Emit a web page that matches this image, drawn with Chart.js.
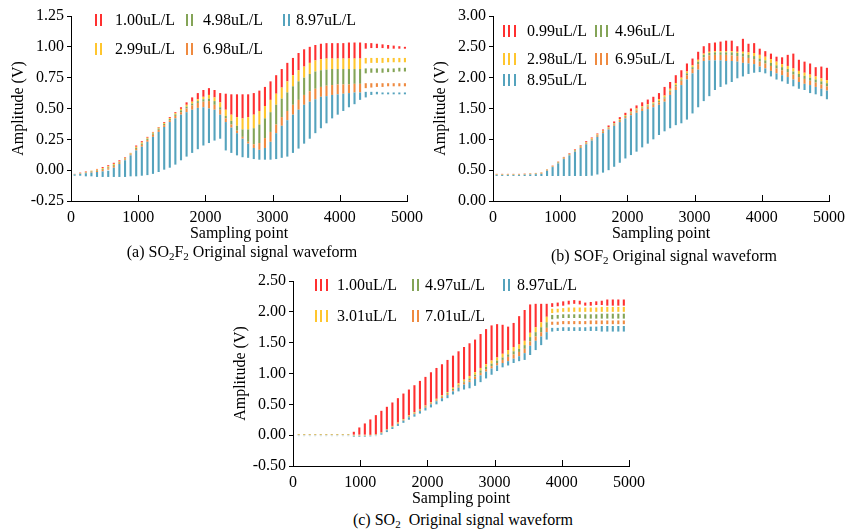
<!DOCTYPE html>
<html>
<head>
<meta charset="utf-8">
<script src="https://cdn.jsdelivr.net/npm/chart.js@4.4.0/dist/chart.umd.min.js"></script>
<style>
  html, body { margin: 0; padding: 0; background: #fff; }
  body { width: 853px; height: 530px; position: relative; overflow: hidden;
         font-family: "Liberation Serif", "Times New Roman", serif; color: #000; }
  canvas { position: absolute; }
  .caption { position: absolute; font-size: 16px; line-height: 18px; white-space: nowrap; transform: translateX(-50%); }
  .caption sub { font-size: 11px; line-height: 0; vertical-align: -3px; }
  .lg-text { position: absolute; font-size: 16px; line-height: 18px; white-space: nowrap; }
  .lg-line { position: absolute; width: 2px; height: 12px; }
</style>
</head>
<body>
<canvas id="chartA" width="430" height="245" style="left:0px;top:0px"></canvas>
<canvas id="chartB" width="430" height="245" style="left:422px;top:0px"></canvas>
<canvas id="chartC" width="430" height="245" style="left:222px;top:265px"></canvas>
<div class="caption" style="left:242px;top:243px">(a) SO<sub>2</sub>F<sub>2</sub> Original signal waveform</div>
<div class="caption" style="left:664px;top:247px">(b) SOF<sub>2</sub> Original signal waveform</div>
<div class="caption" style="left:463px;top:511px">(c) SO<sub>2</sub>&nbsp; Original signal waveform</div>
<script>
// sampling points where each vertical stroke sits
var samplesAB = [54, 137, 221, 304, 387, 471, 554, 637, 720, 804,
    887, 970, 1054, 1137, 1220, 1304, 1387, 1470, 1553, 1637,
    1720, 1803, 1887, 1970, 2053, 2136, 2220, 2303, 2386, 2470,
    2553, 2636, 2720, 2803, 2886, 2969, 3053, 3136, 3219, 3303,
    3386, 3469, 3553, 3636, 3719, 3802, 3886, 3969, 4052, 4136,
    4219, 4302, 4386, 4469, 4552, 4636, 4719, 4802, 4886, 4969];
var samplesC = [85, 167, 249, 331, 413, 495, 577, 659, 741, 823,
    905, 987, 1069, 1151, 1233, 1315, 1397, 1479, 1561, 1643,
    1725, 1807, 1889, 1971, 2053, 2135, 2217, 2299, 2381, 2463,
    2545, 2627, 2709, 2791, 2873, 2955, 3037, 3119, 3201, 3283,
    3365, 3447, 3529, 3611, 3693, 3775, 3857, 3939, 4021, 4103,
    4185, 4267, 4349, 4431, 4513, 4595, 4677, 4759, 4841, 4923];

// (a) SO2F2 - top of each stroke, lowest concentration first
var so2f2Labels = ['1.00uL/L', '2.99uL/L', '4.98uL/L', '6.98uL/L', '8.97uL/L'];
var so2f2Top100 = [-0.03, -0.02, -0.01, 0.0, 0.01, 0.025, 0.04, 0.06, 0.08, 0.105,
    0.14, 0.2, 0.235, 0.27, 0.31, 0.35, 0.39, 0.43, 0.47, 0.51,
    0.55, 0.59, 0.625, 0.65, 0.665, 0.65, 0.625, 0.62, 0.615, 0.615,
    0.615, 0.615, 0.625, 0.645, 0.675, 0.72, 0.77, 0.82, 0.87, 0.91,
    0.95, 0.98, 1.0, 1.015, 1.025, 1.03, 1.03, 1.03, 1.03, 1.035,
    1.035, 1.035, 1.03, 1.03, 1.025, 1.02, 1.015, 1.01, 1.005, 1.0];
var so2f2Top299 = [-0.031, -0.023, -0.014, -0.005, 0.005, 0.017, 0.031, 0.051, 0.07, 0.1,
    0.137, 0.19, 0.225, 0.263, 0.305, 0.345, 0.383, 0.423, 0.462, 0.497,
    0.53, 0.555, 0.575, 0.595, 0.61, 0.59, 0.55, 0.49, 0.45, 0.43,
    0.42, 0.43, 0.45, 0.48, 0.52, 0.57, 0.62, 0.67, 0.72, 0.77,
    0.81, 0.84, 0.87, 0.89, 0.9, 0.905, 0.905, 0.905, 0.905, 0.905,
    0.905, 0.905, 0.91, 0.91, 0.91, 0.91, 0.91, 0.91, 0.91, 0.91];
var so2f2Top498 = [-0.032, -0.025, -0.017, -0.009, -0.001, 0.01, 0.023, 0.043, 0.064, 0.094,
    0.132, 0.181, 0.215, 0.255, 0.297, 0.337, 0.375, 0.415, 0.452, 0.485,
    0.515, 0.54, 0.56, 0.575, 0.58, 0.56, 0.51, 0.44, 0.4, 0.36,
    0.33, 0.33, 0.34, 0.37, 0.42, 0.47, 0.53, 0.58, 0.63, 0.68,
    0.72, 0.75, 0.78, 0.8, 0.81, 0.815, 0.82, 0.82, 0.82, 0.82,
    0.82, 0.82, 0.825, 0.825, 0.825, 0.825, 0.825, 0.825, 0.83, 0.83];
var so2f2Top698 = [-0.033, -0.027, -0.02, -0.013, -0.006, 0.003, 0.015, 0.035, 0.058, 0.088,
    0.127, 0.172, 0.205, 0.245, 0.287, 0.327, 0.365, 0.405, 0.44, 0.47,
    0.5, 0.525, 0.545, 0.555, 0.56, 0.53, 0.49, 0.42, 0.37, 0.32,
    0.27, 0.23, 0.21, 0.22, 0.26, 0.31, 0.37, 0.43, 0.48, 0.53,
    0.57, 0.61, 0.64, 0.66, 0.675, 0.685, 0.69, 0.695, 0.695, 0.695,
    0.7, 0.7, 0.705, 0.705, 0.705, 0.705, 0.705, 0.705, 0.705, 0.705];
var so2f2Top897 = [-0.035, -0.03, -0.025, -0.02, -0.015, -0.01, 0.0, 0.02, 0.05, 0.08,
    0.12, 0.16, 0.19, 0.23, 0.27, 0.31, 0.35, 0.39, 0.42, 0.45,
    0.47, 0.49, 0.505, 0.51, 0.5, 0.49, 0.45, 0.39, 0.345, 0.3,
    0.255, 0.215, 0.18, 0.165, 0.18, 0.23, 0.3, 0.36, 0.405, 0.45,
    0.49, 0.53, 0.555, 0.575, 0.595, 0.6, 0.61, 0.615, 0.62, 0.625,
    0.63, 0.63, 0.635, 0.635, 0.635, 0.63, 0.63, 0.63, 0.63, 0.63];
var so2f2Bottom = [-0.045, -0.045, -0.05, -0.05, -0.055, -0.055, -0.055, -0.055, -0.055, -0.055,
    -0.05, -0.05, -0.045, -0.04, -0.03, -0.015, 0.0, 0.02, 0.045, 0.08,
    0.11, 0.14, 0.17, 0.2, 0.22, 0.24, 0.255, 0.16, 0.14, 0.12,
    0.105, 0.1, 0.09, 0.085, 0.085, 0.085, 0.09, 0.1, 0.11, 0.14,
    0.175, 0.215, 0.255, 0.3, 0.34, 0.38, 0.42, 0.45, 0.48, 0.51,
    0.535, 0.57, 0.59, 0.61, 0.615, 0.615, 0.615, 0.615, 0.615, 0.615];
// separate short strokes at the end: lower ends
var so2f2TailStart = 52;
var so2f2Tail100 = [0.985, 0.99, 0.99, 0.99, 0.985, 0.985, 0.985, 0.985];
var so2f2Tail299 = [0.865, 0.87, 0.87, 0.87, 0.875, 0.875, 0.875, 0.875];
var so2f2Tail498 = [0.785, 0.79, 0.79, 0.79, 0.795, 0.795, 0.8, 0.8];
var so2f2Tail698 = [0.665, 0.67, 0.675, 0.675, 0.68, 0.68, 0.68, 0.68];

// (b) SOF2
var sof2Labels = ['0.99uL/L', '2.98uL/L', '4.96uL/L', '6.95uL/L', '8.95uL/L'];
var sof2Top099 = [0.44, 0.44, 0.44, 0.44, 0.44, 0.445, 0.45, 0.455, 0.465, 0.515,
    0.575, 0.64, 0.715, 0.775, 0.84, 0.905, 0.97, 1.03, 1.095, 1.16,
    1.225, 1.29, 1.36, 1.43, 1.5, 1.55, 1.6, 1.645, 1.69, 1.75,
    1.85, 1.93, 2.04, 2.12, 2.23, 2.31, 2.42, 2.51, 2.56, 2.57,
    2.585, 2.6, 2.6, 2.51, 2.63, 2.55, 2.56, 2.47, 2.43, 2.39,
    2.34, 2.33, 2.37, 2.39, 2.29, 2.26, 2.23, 2.17, 2.18, 2.16];
var sof2Top298 = [0.435, 0.435, 0.435, 0.435, 0.435, 0.44, 0.445, 0.45, 0.46, 0.51,
    0.57, 0.635, 0.705, 0.765, 0.83, 0.895, 0.955, 1.015, 1.08, 1.14,
    1.2, 1.265, 1.33, 1.395, 1.45, 1.5, 1.535, 1.57, 1.6, 1.65,
    1.71, 1.82, 1.91, 2.0, 2.1, 2.2, 2.29, 2.39, 2.42, 2.43,
    2.43, 2.43, 2.43, 2.42, 2.42, 2.41, 2.4, 2.37, 2.34, 2.3,
    2.26, 2.22, 2.19, 2.15, 2.11, 2.08, 2.05, 2.02, 1.99, 1.96];
var sof2Top496 = [0.43, 0.43, 0.43, 0.43, 0.43, 0.435, 0.44, 0.445, 0.455, 0.505,
    0.565, 0.63, 0.7, 0.76, 0.82, 0.885, 0.945, 1.005, 1.07, 1.13,
    1.19, 1.255, 1.315, 1.38, 1.435, 1.48, 1.515, 1.55, 1.58, 1.62,
    1.68, 1.79, 1.88, 1.97, 2.07, 2.17, 2.26, 2.37, 2.4, 2.41,
    2.41, 2.41, 2.41, 2.4, 2.39, 2.37, 2.35, 2.31, 2.28, 2.24,
    2.2, 2.17, 2.14, 2.1, 2.06, 2.03, 2.0, 1.97, 1.94, 1.91];
var sof2Top695 = [0.425, 0.425, 0.425, 0.425, 0.425, 0.43, 0.435, 0.44, 0.45, 0.5,
    0.56, 0.62, 0.69, 0.75, 0.81, 0.875, 0.935, 0.995, 1.06, 1.12,
    1.18, 1.24, 1.3, 1.365, 1.42, 1.465, 1.5, 1.53, 1.56, 1.6,
    1.66, 1.77, 1.86, 1.95, 2.04, 2.14, 2.22, 2.33, 2.36, 2.37,
    2.37, 2.37, 2.36, 2.35, 2.34, 2.32, 2.3, 2.26, 2.23, 2.19,
    2.15, 2.12, 2.09, 2.05, 2.01, 1.98, 1.95, 1.92, 1.89, 1.86];
var sof2Top895 = [0.42, 0.42, 0.42, 0.42, 0.42, 0.425, 0.43, 0.435, 0.44, 0.49,
    0.55, 0.61, 0.68, 0.74, 0.8, 0.86, 0.92, 0.98, 1.04, 1.1,
    1.16, 1.22, 1.28, 1.34, 1.39, 1.43, 1.46, 1.49, 1.52, 1.56,
    1.61, 1.72, 1.8, 1.88, 1.97, 2.07, 2.13, 2.27, 2.28, 2.28,
    2.28, 2.27, 2.27, 2.26, 2.24, 2.23, 2.22, 2.18, 2.15, 2.11,
    2.07, 2.04, 2.01, 1.97, 1.93, 1.9, 1.88, 1.85, 1.82, 1.79];
var sof2Bottom = [0.405, 0.405, 0.405, 0.405, 0.405, 0.405, 0.405, 0.405, 0.405, 0.405,
    0.405, 0.405, 0.405, 0.405, 0.405, 0.405, 0.405, 0.41, 0.43, 0.46,
    0.5, 0.555, 0.62, 0.69, 0.745, 0.8, 0.87, 0.93, 1.0, 1.07,
    1.13, 1.18, 1.23, 1.26, 1.32, 1.42, 1.52, 1.62, 1.7, 1.8,
    1.85, 1.89, 1.93, 1.99, 2.02, 2.06, 2.08, 2.09, 2.07, 2.02,
    1.97, 1.94, 1.9, 1.86, 1.82, 1.8, 1.75, 1.73, 1.7, 1.65];

// (c) SO2
var so2Labels = ['1.00uL/L', '3.01uL/L', '4.97uL/L', '7.01uL/L', '8.97uL/L'];
var so2Top100 = [0.015, 0.015, 0.015, 0.015, 0.015, 0.015, 0.015, 0.015, 0.015, 0.015,
    0.055, 0.125, 0.19, 0.255, 0.325, 0.395, 0.46, 0.53, 0.6, 0.675,
    0.74, 0.81, 0.88, 0.945, 1.02, 1.09, 1.15, 1.22, 1.29, 1.36,
    1.43, 1.49, 1.55, 1.64, 1.72, 1.78, 1.8, 1.79, 1.76, 1.82,
    1.93, 2.03, 2.12, 2.13, 2.13, 2.13, 2.14, 2.15, 2.17, 2.18,
    2.19, 2.18, 2.15, 2.16, 2.17, 2.18, 2.2, 2.2, 2.2, 2.2];
var so2Top301 = [0.012, 0.012, 0.012, 0.012, 0.012, 0.012, 0.012, 0.012, 0.012, 0.012,
    0.0, 0.0, 0.0, 0.005, 0.015, 0.045, 0.095, 0.15, 0.205, 0.26,
    0.32, 0.375, 0.425, 0.48, 0.535, 0.59, 0.645, 0.7, 0.77, 0.84,
    0.9, 0.96, 1.02, 1.09, 1.15, 1.21, 1.26, 1.32, 1.38, 1.43,
    1.47, 1.53, 1.66, 1.75, 1.83, 1.92, 2.05, 2.05, 2.06, 2.07,
    2.07, 2.07, 2.07, 2.07, 2.07, 2.08, 2.08, 2.08, 2.08, 2.08];
var so2Top497 = [0.003, 0.003, 0.003, 0.003, 0.003, 0.003, 0.003, 0.003, 0.003, 0.003,
    -0.005, -0.005, -0.005, 0.0, 0.01, 0.04, 0.09, 0.14, 0.195, 0.25,
    0.31, 0.365, 0.415, 0.47, 0.525, 0.575, 0.63, 0.685, 0.75, 0.81,
    0.87, 0.92, 0.98, 1.05, 1.11, 1.16, 1.21, 1.26, 1.31, 1.36,
    1.4, 1.46, 1.59, 1.67, 1.75, 1.83, 1.95, 1.95, 1.96, 1.96,
    1.96, 1.96, 1.96, 1.96, 1.96, 1.97, 1.97, 1.97, 1.97, 1.97];
var so2Top701 = [0.0, 0.0, 0.0, 0.0, 0.0, 0.0, 0.0, 0.0, 0.0, 0.0,
    -0.01, -0.01, -0.01, -0.005, 0.005, 0.035, 0.085, 0.135, 0.19, 0.245,
    0.3, 0.355, 0.405, 0.46, 0.515, 0.565, 0.62, 0.67, 0.73, 0.79,
    0.85, 0.89, 0.95, 1.01, 1.07, 1.12, 1.17, 1.22, 1.27, 1.31,
    1.35, 1.4, 1.52, 1.6, 1.67, 1.74, 1.84, 1.84, 1.85, 1.85,
    1.85, 1.85, 1.85, 1.86, 1.86, 1.86, 1.86, 1.86, 1.86, 1.86];
var so2Top897 = [-0.01, -0.01, -0.01, -0.01, -0.01, -0.01, -0.01, -0.01, -0.01, -0.01,
    -0.015, -0.015, -0.015, -0.01, 0.0, 0.03, 0.08, 0.13, 0.18, 0.235,
    0.29, 0.34, 0.39, 0.445, 0.5, 0.55, 0.6, 0.65, 0.71, 0.77,
    0.82, 0.86, 0.91, 0.97, 1.03, 1.08, 1.13, 1.17, 1.2, 1.24,
    1.28, 1.33, 1.45, 1.53, 1.6, 1.67, 1.74, 1.74, 1.75, 1.75,
    1.75, 1.75, 1.75, 1.76, 1.76, 1.77, 1.77, 1.77, 1.77, 1.77];
var so2Bottom = [-0.015, -0.015, -0.015, -0.015, -0.015, -0.015, -0.015, -0.015, -0.015, -0.015,
    -0.025, -0.025, -0.025, -0.02, -0.015, 0.0, 0.05, 0.1, 0.15, 0.2,
    0.25, 0.3, 0.35, 0.4, 0.45, 0.5, 0.55, 0.6, 0.66, 0.71,
    0.74, 0.76, 0.8, 0.86, 0.92, 0.98, 1.04, 1.1, 1.13, 1.17,
    1.2, 1.22, 1.3, 1.38, 1.46, 1.55, 1.68, 1.69, 1.69, 1.69,
    1.69, 1.69, 1.69, 1.69, 1.69, 1.68, 1.68, 1.68, 1.68, 1.68];
var so2TailStart = 46;
var so2Tail100 = [2.08, 2.09, 2.1, 2.12, 2.13, 2.12, 2.1, 2.1, 2.11, 2.11, 2.1, 2.1, 2.1, 2.1];
var so2Tail301 = [1.98, 1.99, 2.0, 2.0, 2.0, 2.0, 2.0, 2.0, 2.0, 2.0, 2.0, 2.0, 2.0, 2.0];
var so2Tail497 = [1.88, 1.89, 1.9, 1.9, 1.9, 1.9, 1.89, 1.89, 1.89, 1.89, 1.89, 1.89, 1.89, 1.89];
var so2Tail701 = [1.79, 1.79, 1.8, 1.8, 1.8, 1.8, 1.8, 1.8, 1.8, 1.8, 1.8, 1.8, 1.8, 1.8];

var seriesColors = ['#ff3030', '#ffc62e', '#84a457', '#ef8a40', '#55a3bd'];
var FONT = 'Liberation Serif';

// x ticks pointing into the plot, like the original figure
var innerTicks = {
    id: 'innerTicks',
    afterDraw: function(chart) {
        var xs = chart.scales.x;
        var ctx = chart.ctx;
        var bottom = chart.chartArea.bottom;
        ctx.save();
        ctx.strokeStyle = '#000';
        ctx.lineWidth = 1;
        xs.ticks.forEach(function(t) {
            var px = Math.round(xs.getPixelForValue(t.value)) + 0.5;
            ctx.beginPath();
            ctx.moveTo(px, bottom);
            ctx.lineTo(px, bottom - 6);
            ctx.stroke();
        });
        ctx.restore();
    }
};

function buildDatasets(labels, samples, tops, bottom, tailStart, tails) {
    return tops.map(function(top, s) {
        var data = samples.map(function(x, i) {
            var low;
            if (s === tops.length - 1) {
                low = bottom[i];
            } else if (i >= tailStart) {
                low = tails[s][i - tailStart];
            } else {
                low = tops[s + 1][i]; // stroke meets the next one down
            }
            return { x: x, y: [low, top[i]] };
        });
        return {
            label: labels[s],
            data: data,
            backgroundColor: seriesColors[s],
            borderWidth: 0,
            inflateAmount: 0,
            barThickness: 2.1,
            grouped: false,
            order: tops.length - s
        };
    });
}

function makeChart(id, datasets, yMin, yMax, yStep) {
    var ctx = document.getElementById(id).getContext('2d');
    return new Chart(ctx, {
        type: 'bar',
        data: { datasets: datasets },
        plugins: [innerTicks],
        options: {
            responsive: false,
            animation: false,
            devicePixelRatio: 1,
            layout: { padding: { top: 16, right: 16, left: 0, bottom: 0 } },
            plugins: { legend: { display: false }, tooltip: { enabled: false } },
            scales: {
                x: {
                    type: 'linear',
                    min: 0, max: 5000,
                    offset: false,
                    afterFit: function(scale) { scale.height = 44; },
                    grid: { display: true, drawOnChartArea: false, drawTicks: false, offset: false },
                    border: { color: '#000', width: 1 },
                    ticks: {
                        stepSize: 1000, padding: 7, color: '#000', font: { family: FONT, size: 16 }, maxRotation: 0,
                        callback: function(v) { return String(v); }
                    },
                    title: { display: true, text: 'Sampling point', color: '#000', font: { family: FONT, size: 16 }, padding: { top: 0, bottom: 2 } }
                },
                y: {
                    min: yMin, max: yMax,
                    afterFit: function(scale) { scale.width = 71; },
                    grid: { drawOnChartArea: false, drawTicks: true, tickLength: 4, color: '#000' },
                    border: { color: '#000', width: 1 },
                    ticks: {
                        stepSize: yStep, padding: 3, color: '#000', font: { family: FONT, size: 16 },
                        callback: function(v) { return Number(v).toFixed(2); }
                    },
                    title: { display: true, text: 'Amplitude (V)', color: '#000', font: { family: FONT, size: 16 }, padding: { top: 9, bottom: 0 } }
                }
            }
        }
    });
}

makeChart('chartA', buildDatasets(so2f2Labels, samplesAB,
    [so2f2Top100, so2f2Top299, so2f2Top498, so2f2Top698, so2f2Top897], so2f2Bottom,
    so2f2TailStart, [so2f2Tail100, so2f2Tail299, so2f2Tail498, so2f2Tail698]), -0.25, 1.25, 0.25);
makeChart('chartB', buildDatasets(sof2Labels, samplesAB,
    [sof2Top099, sof2Top298, sof2Top496, sof2Top695, sof2Top895], sof2Bottom,
    samplesAB.length, []), 0, 3, 0.5);
makeChart('chartC', buildDatasets(so2Labels, samplesC,
    [so2Top100, so2Top301, so2Top497, so2Top701, so2Top897], so2Bottom,
    so2TailStart, [so2Tail100, so2Tail301, so2Tail497, so2Tail701]), -0.5, 2.5, 0.5);

// legends inside the plots: [series index, stroke count, marker x, text x, centre y]
var legendA = [[0, 2, 95, 115, 20], [2, 2, 186, 203, 20], [4, 2, 283, 296, 20],
               [1, 2, 95, 115, 49], [3, 2, 186, 203, 49]];
var legendB = [[0, 3, 503, 527, 31], [2, 3, 595, 615, 31],
               [1, 3, 503, 527, 59], [3, 3, 595, 615, 59],
               [4, 3, 503, 527, 80]];
var legendC = [[0, 3, 315, 337, 285], [2, 2, 412, 425, 285], [4, 2, 503, 517, 285],
               [1, 3, 315, 337, 316], [3, 2, 412, 425, 316]];

function addLegend(items, labels) {
    items.forEach(function(it) {
        for (var k = 0; k < it[1]; k++) {
            var line = document.createElement('div');
            line.className = 'lg-line';
            line.style.background = seriesColors[it[0]];
            line.style.left = (it[2] + k * 5.3) + 'px';
            line.style.top = (it[4] - 6) + 'px';
            document.body.appendChild(line);
        }
        var txt = document.createElement('div');
        txt.className = 'lg-text';
        txt.textContent = labels[it[0]];
        txt.style.left = it[3] + 'px';
        txt.style.top = (it[4] - 9) + 'px';
        document.body.appendChild(txt);
    });
}
addLegend(legendA, so2f2Labels);
addLegend(legendB, sof2Labels);
addLegend(legendC, so2Labels);
</script>
</body>
</html>
